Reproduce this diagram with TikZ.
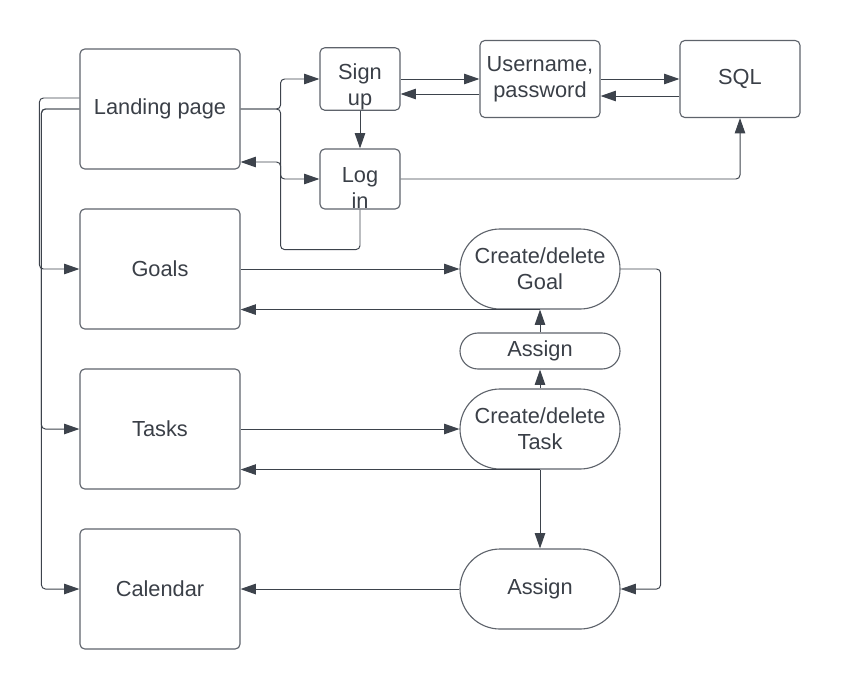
\documentclass[tikz,border=0pt]{standalone}
\usepackage{fontspec}
\setmainfont{Liberation Sans}
\usepackage{tikz}
\usetikzlibrary{shapes,arrows.meta}
\definecolor{inkc}{HTML}{3A3F47}
\definecolor{edgec}{HTML}{5E636B}
\definecolor{linec}{HTML}{3D434C}
\newcommand{\padtop}{\rule{0pt}{0.8cm}}
\tikzstyle{block} = [rectangle, draw=edgec, line width=0.8pt, text=inkc,
    minimum width=4cm, minimum height=3cm, align=center, rounded corners=0.12cm]
\tikzstyle{small} = [block, minimum width=2cm, minimum height=1.5cm, inner ysep=0pt]
\tikzstyle{store} = [block, minimum width=3cm, minimum height=1.925cm]
\tikzstyle{action} = [block, minimum width=4cm, minimum height=2cm, rounded corners=1cm]
\tikzstyle{thin} = [action, minimum height=0.9cm, rounded corners=0.45cm]
\tikzstyle{line} = [draw=linec, line width=0.7pt, rounded corners=0.1cm,
    -{Triangle[length=3.8mm,width=2.6mm]}]

\begin{document}
\begin{tikzpicture}[node distance = 4cm, font=\fontsize{15.5}{18.5}\selectfont]
\useasboundingbox (-4,2.725) rectangle (17.025,-14.5);
\node [block] (landing) {Landing page};
\node [block, below of=landing] (goals) {Goals};
\node [block, below of=goals] (tasks) {Tasks};
\node [block, below of=tasks] (calendar) {Calendar};
\node [small, right of=landing, node distance = 5cm, yshift=0.75cm] (signup) {\padtop Sign\\up};
\node [small, below of=signup, node distance = 2.5cm] (login) {\padtop Log\\in};
\node [store, right of=signup, node distance = 4.5cm] (user) {Username,\\password};
\node [store, right of=user, node distance = 5cm] (sql) {SQL};
\node [action, right of=goals, node distance = 9.5cm] (cgoal) {Create/delete\\Goal};
\node [thin, below of=cgoal, node distance = 2.05cm] (assign) {Assign};
\node [action, right of=tasks, node distance = 9.5cm] (ctask) {Create/delete\\Task};
\node [action, right of=calendar, node distance = 9.5cm] (acal) {Assign};
\coordinate (lpin) at ([yshift=-1.325cm]landing.east);
% login flow
\path [line] (landing.east) -- ([xshift=1cm]landing.east) |- (signup.west);
\path [line] (landing.east) -- ([xshift=1cm]landing.east) |- (login.west);
\path [line] (login.south) -- ++(0,-1) -| ([xshift=1cm]lpin) -- (lpin);
\path [line] (signup.south) -- (login.north);
\path [line] (signup.east) -- (user.west);
\path [line] ([yshift=-0.375cm]user.west) -- ([yshift=-0.375cm]signup.east);
\path [line] (user.east) -- (sql.west);
\path [line] ([yshift=-0.425cm]sql.west) -- ([yshift=-0.425cm]user.east);
\path [line] (login.east) -| (sql.south);
% pages
\path [line] ([yshift=0.275cm]landing.west) -- ++(-1,0) |- (goals.west);
\path [line] (landing.west) -- ++(-0.95,0) |- (tasks.west);
\path [line] (landing.west) -- ++(-0.95,0) |- (calendar.west);
% goals and tasks
\path [line] (goals.east) -- (cgoal.west);
\path [line] (cgoal.south) -- (cgoal.south -| goals.east);
\path [line] (assign.north) -- (cgoal.south);
\path [line] (ctask.north) -- (assign.south);
\path [line] (tasks.east) -- (ctask.west);
\path [line] (ctask.south) -- (ctask.south -| tasks.east);
\path [line] (ctask.south) -- (acal.north);
\path [line] (cgoal.east) -- ++(1,0) |- (acal.east);
\path [line] (acal.west) -- (calendar.east);
\end{tikzpicture}
\end{document}
